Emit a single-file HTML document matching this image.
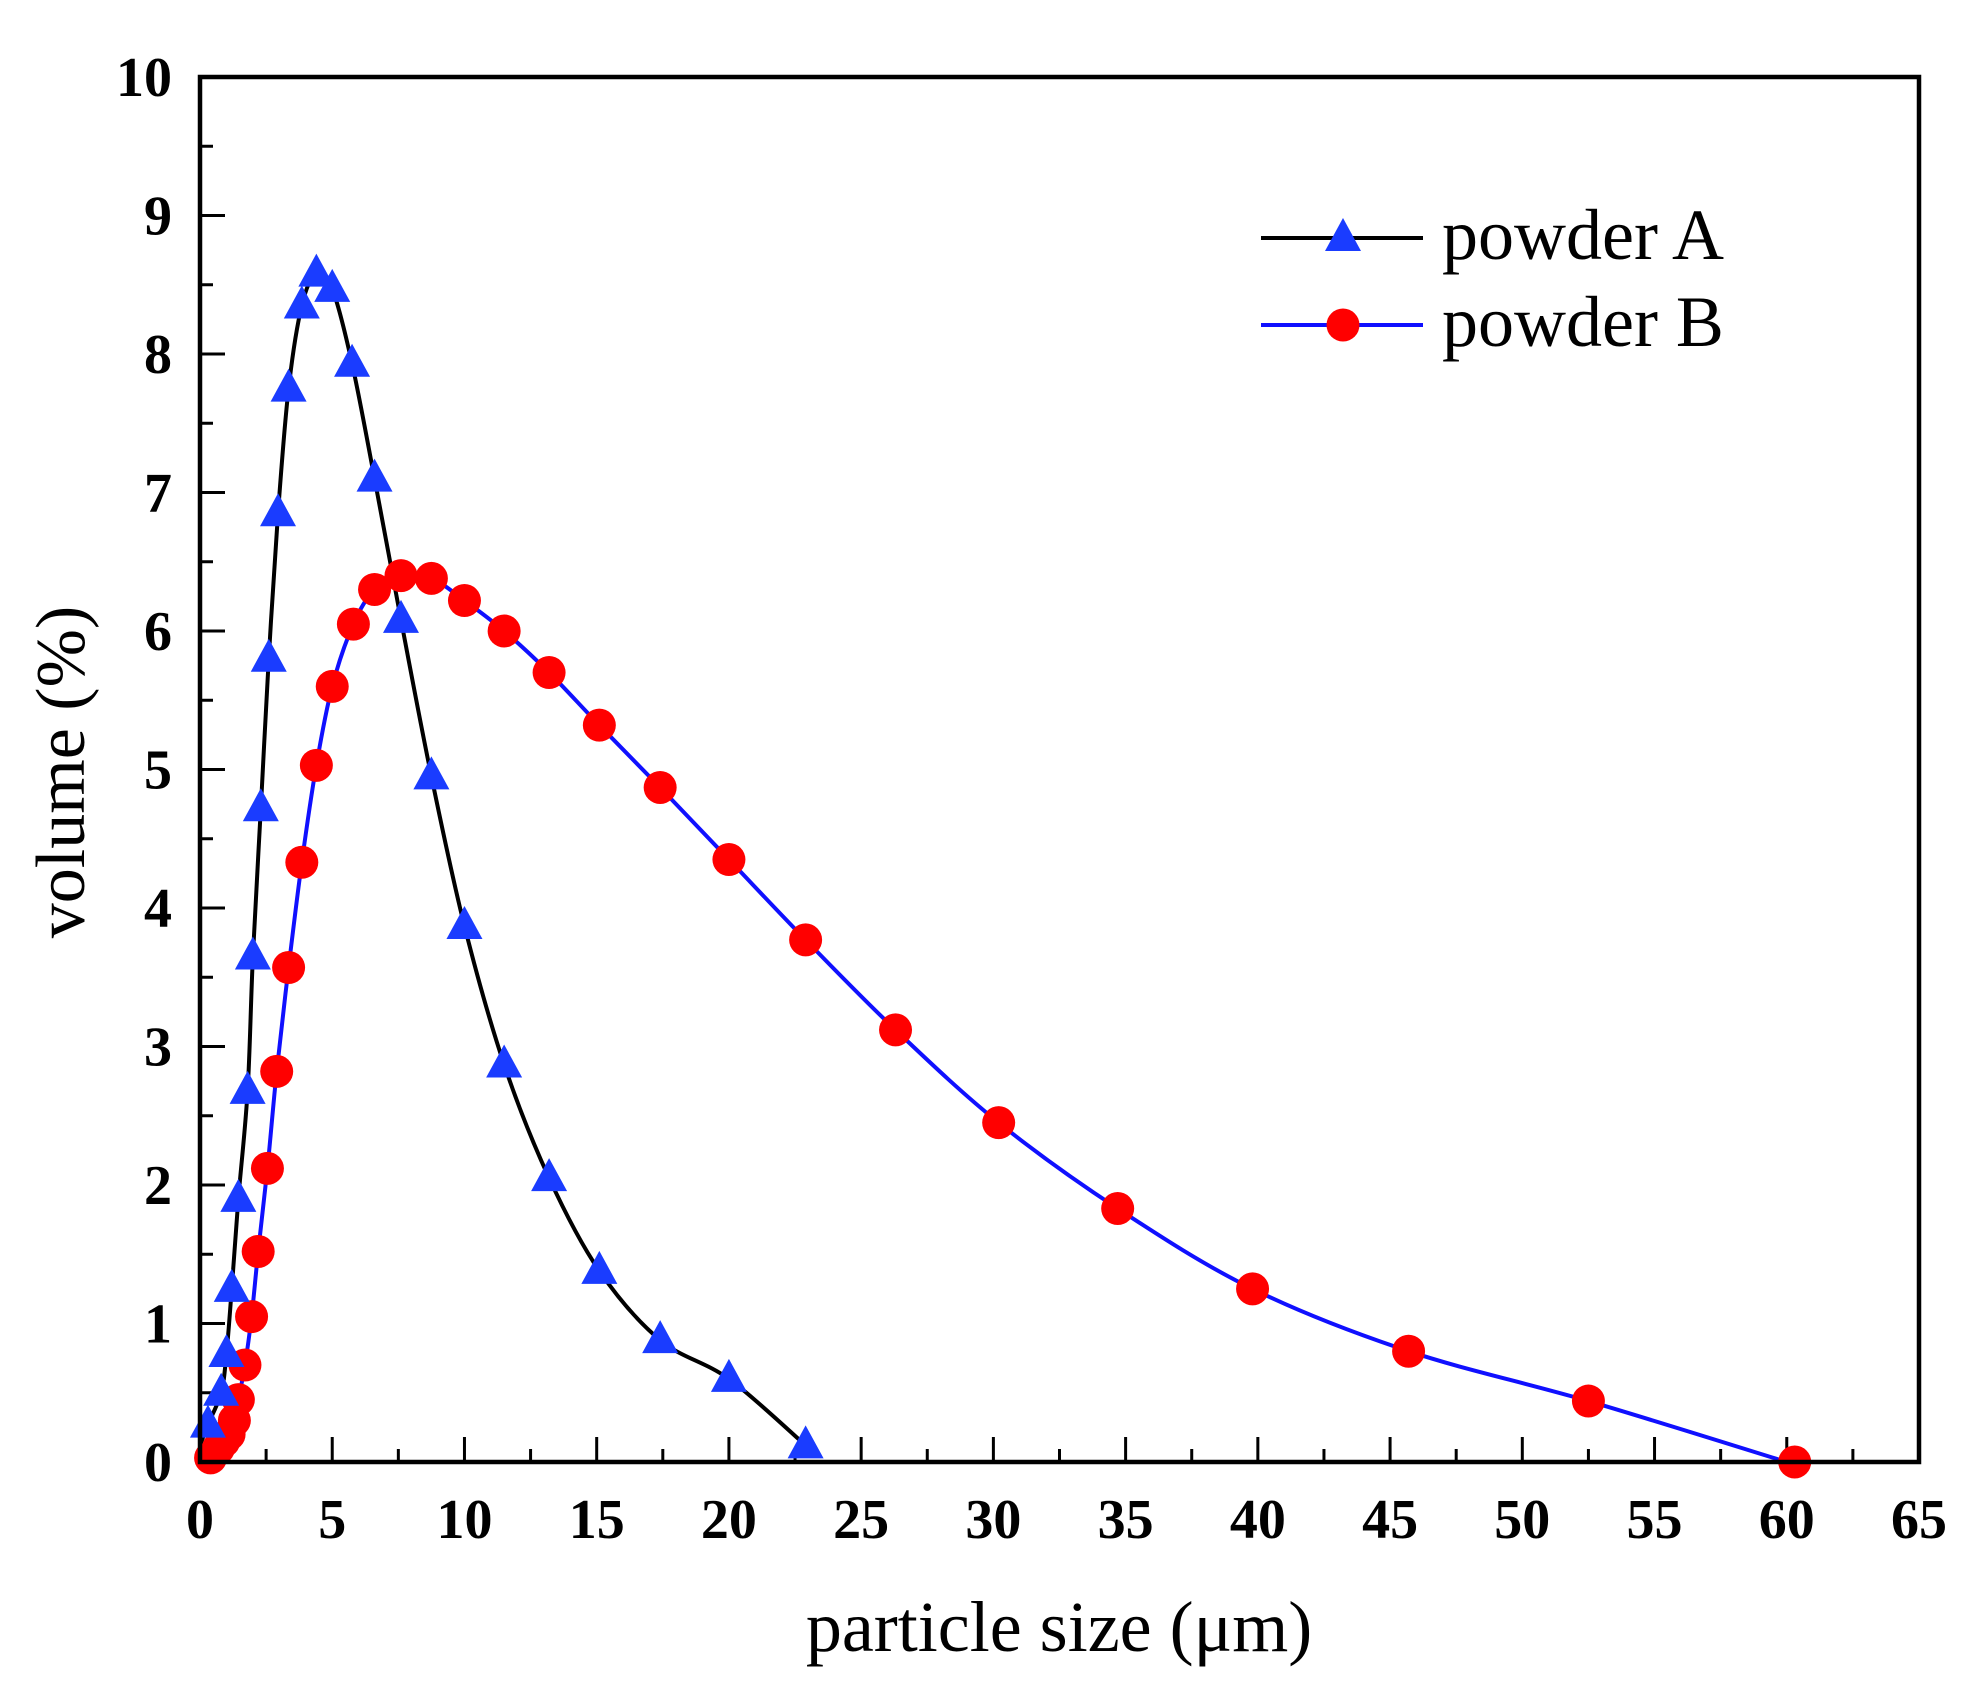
<!DOCTYPE html>
<html><head><meta charset="utf-8"><style>
html,body{margin:0;padding:0;background:#fff;}
svg{display:block;}
text{font-family:"Liberation Serif","Times New Roman",serif;fill:#000;}
</style></head><body>
<svg id="c" width="1984" height="1689" viewBox="0 0 1984 1689" xmlns="http://www.w3.org/2000/svg"></svg>
<script>
const L=200,R=1919,T=77,B=1462;
const X=v=>L+v*(R-L)/65, Y=v=>B-v*(B-T)/10;
let s='';
for(let i=1;i<26;i++){const v=i*2.5;const x=X(v);const len=i%2==0?25:13;s+=`<line x1="${x}" y1="${B}" x2="${x}" y2="${B-len}" stroke="#000" stroke-width="3"/>`;}
for(let i=1;i<20;i++){const v=i/2;const y=Y(v);const len=i%2==0?25:13;s+=`<line x1="${L}" y1="${y}" x2="${L+len}" y2="${y}" stroke="#000" stroke-width="3"/>`;}
for(let v=0;v<=65;v+=5)s+=`<text x="${X(v)}" y="1538" font-size="56" font-weight="bold" text-anchor="middle">${v}</text>`;
for(let v=0;v<=10;v++)s+=`<text x="172" y="${Y(v)+19}" font-size="56" font-weight="bold" text-anchor="end">${v}</text>`;
s+=`<text x="1059" y="1651" font-size="72" text-anchor="middle">particle size (μm)</text>`;
s+=`<text transform="translate(84,772) rotate(-90)" font-size="70" text-anchor="middle">volume (%)</text>`;
const A=[[0,0.12],[0.3,0.27],[0.8,0.5],[1.0,0.78],[1.2,1.25],[1.45,1.9],[1.8,2.68],[2.0,3.65],[2.3,4.72],[2.6,5.8],[2.95,6.85],[3.35,7.75],[3.85,8.35],[4.4,8.58],[5.0,8.47],[5.75,7.93],[6.6,7.1],[7.6,6.08],[8.75,4.95],[10.0,3.87],[11.5,2.87],[13.2,2.05],[15.1,1.38],[17.4,0.88],[20.0,0.6],[22.9,0.12]];
const Bd=[[0.4,0.03],[0.7,0.1],[0.9,0.15],[1.1,0.2],[1.3,0.3],[1.45,0.45],[1.7,0.7],[1.95,1.05],[2.2,1.52],[2.55,2.12],[2.9,2.82],[3.35,3.57],[3.85,4.33],[4.4,5.03],[5.0,5.6],[5.8,6.05],[6.6,6.3],[7.6,6.4],[8.75,6.38],[10.0,6.22],[11.5,6.0],[13.2,5.7],[15.1,5.32],[17.4,4.87],[20.0,4.35],[22.9,3.77],[26.3,3.12],[30.2,2.45],[34.7,1.83],[39.8,1.25],[45.7,0.8],[52.5,0.44],[60.0,0.0]];
function path(d){const p=d.map(a=>[X(a[0]),Y(a[1])]);let o=`M${p[0][0]},${p[0][1]}`;for(let i=0;i<p.length-1;i++){const p0=p[Math.max(0,i-1)],p1=p[i],p2=p[i+1],p3=p[Math.min(p.length-1,i+2)];const t=6;o+=`C${p1[0]+(p2[0]-p0[0])/t},${p1[1]+(p2[1]-p0[1])/t} ${p2[0]-(p3[0]-p1[0])/t},${p2[1]-(p3[1]-p1[1])/t} ${p2[0]},${p2[1]}`;}return o;}
s+=`<path d="${path(A)}" fill="none" stroke="#000" stroke-width="4"/>`;
s+=`<path d="${path(Bd)}" fill="none" stroke="#1010ff" stroke-width="4"/>`;
const tri=(x,y)=>`<polygon points="${x},${y-20} ${x-18},${y+13} ${x+18},${y+13}" fill="#1a3cff"/>`;
const cir=(x,y)=>`<circle cx="${x}" cy="${y}" r="16.5" fill="#ff0000"/>`;
const Bm=Bd.slice(0,-1).concat([[60.3,0.0]]);
Bm.forEach(a=>s+=cir(X(a[0]),Y(a[1])));
A.slice(1).forEach(a=>s+=tri(X(a[0]),Y(a[1])));
s+=`<rect x="${L}" y="${T}" width="${R-L}" height="${B-T}" fill="none" stroke="#000" stroke-width="4.5"/>`;
s+=`<line x1="1261" y1="238" x2="1423" y2="238" stroke="#000" stroke-width="4"/>`+tri(1343,238);
s+=`<line x1="1261" y1="325" x2="1423" y2="325" stroke="#1010ff" stroke-width="4"/>`+cir(1343,325);
s+=`<text x="1442" y="259" font-size="72">powder A</text><text x="1442" y="346" font-size="72">powder B</text>`;
document.getElementById('c').innerHTML=s;
</script>
</body></html>
